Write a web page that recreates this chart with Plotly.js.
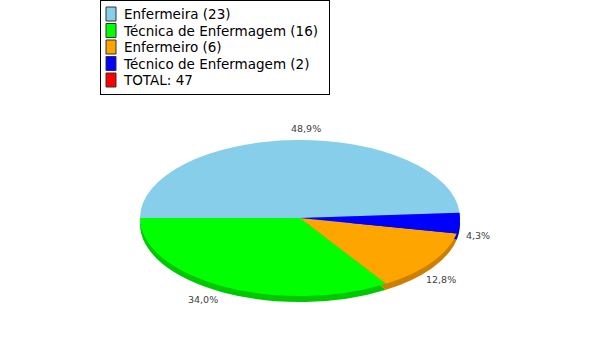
<!DOCTYPE html>
<html>
<head>
<meta charset="utf-8">
<script src="https://cdn.plot.ly/plotly-3.0.1.min.js"></script>
<style>html,body{margin:0;padding:0;background:#fff;}#chart{width:600px;height:350px;}</style>
</head>
<body>
<div id="chart"></div>
<script>
var categories = ["Enfermeira", "Técnica de Enfermagem", "Enfermeiro", "Técnico de Enfermagem"];
var counts = [23, 16, 6, 2];
var colors = ["#87CEEB", "#00FF00", "#FFA500", "#0000FF"];
var darkColors = ["#6AA5BC", "#00C800", "#CC7F00", "#0000B4"];
var totalLabel = "TOTAL";
var totalColor = "#FF0000";

var total = counts.reduce(function(a, b){ return a + b; }, 0);
var labels = categories.map(function(c, i){ return c + " (" + counts[i] + ")"; });
labels.push(totalLabel + ": " + total);
var vals = counts.concat([0]);

var W = 600, H = 350;
var CX = 300, CY = 218, RX = 160, RY = 78, DEPTH = 6;

function pieTrace(cols, showleg) {
  return {
    type: "pie",
    labels: labels,
    values: vals,
    sort: false,
    direction: "counterclockwise",
    rotation: -90,
    textinfo: "none",
    hoverinfo: "none",
    showlegend: showleg,
    marker: {colors: cols.concat([totalColor]), line: {width: 0}},
    domain: {x: [(CX - RX) / W, (CX + RX) / W], y: [0, 1]}
  };
}

// percentage labels positioned around the ellipse from the data
var annotations = [];
var cum = 0;
counts.forEach(function(v){
  var mid = (cum + v / 2) / total * 2 * Math.PI;
  cum += v;
  var c = Math.cos(mid), s = Math.sin(mid);
  var px = CX + (RX + 20) * c;
  var py = CY - (RY + 12) * s + (s < 0 ? DEPTH : 0);
  annotations.push({
    xref: "paper", yref: "paper",
    x: px / W, y: 1 - py / H,
    xanchor: "center", yanchor: "middle",
    text: (v / total * 100).toFixed(1).replace(".", ",") + "%",
    showarrow: false,
    font: {family: "DejaVu Sans, sans-serif", size: 9.5, color: "#404040"}
  });
});

var layout = {
  width: W, height: H,
  margin: {l: 0, r: 0, t: 0, b: 0},
  paper_bgcolor: "#ffffff",
  separators: ",.",
  showlegend: true,
  legend: {
    x: 100 / W, y: 1, xanchor: "left", yanchor: "top",
    bordercolor: "#000000", borderwidth: 1, bgcolor: "#ffffff",
    font: {family: "DejaVu Sans, sans-serif", size: 13.5, color: "#000000"},
    traceorder: "normal"
  },
  annotations: annotations
};

var gd = document.getElementById("chart");
Plotly.newPlot(gd, [pieTrace(darkColors, false), pieTrace(colors, true)], layout, {staticPlot: true}).then(function(){
  var traces = gd.querySelectorAll(".pielayer .trace");
  traces.forEach(function(node, i){
    var cd = gd.calcdata[i][0];
    var k = RY / cd.r;
    var dy = (i === 0) ? DEPTH : 0;
    node.setAttribute("transform",
      "translate(" + CX + "," + (CY + dy) + ") scale(1," + k + ") translate(" + (-cd.cx) + "," + (-cd.cy) + ")");
  });
  // compact legend like the reference
  var items = gd.querySelectorAll(".legend g.traces");
  items.forEach(function(it, i){
    it.setAttribute("transform", "translate(1," + (14 + i * 16.5) + ")");
    var t = it.querySelector("text.legendtext");
    if (t) t.setAttribute("x", "23");
    var p = it.querySelector("path.legendpie");
    if (p) {
      p.setAttribute("d", "M5,7H-5V-7H5Z");
      p.setAttribute("transform", "translate(10,0)");
      p.style.stroke = "#333333";
      p.style.strokeWidth = "1px";
    }
  });
  var bg = gd.querySelector(".legend rect.bg");
  if (bg) { bg.setAttribute("width", "229"); bg.setAttribute("height", "94"); }
});
</script>
</body>
</html>
